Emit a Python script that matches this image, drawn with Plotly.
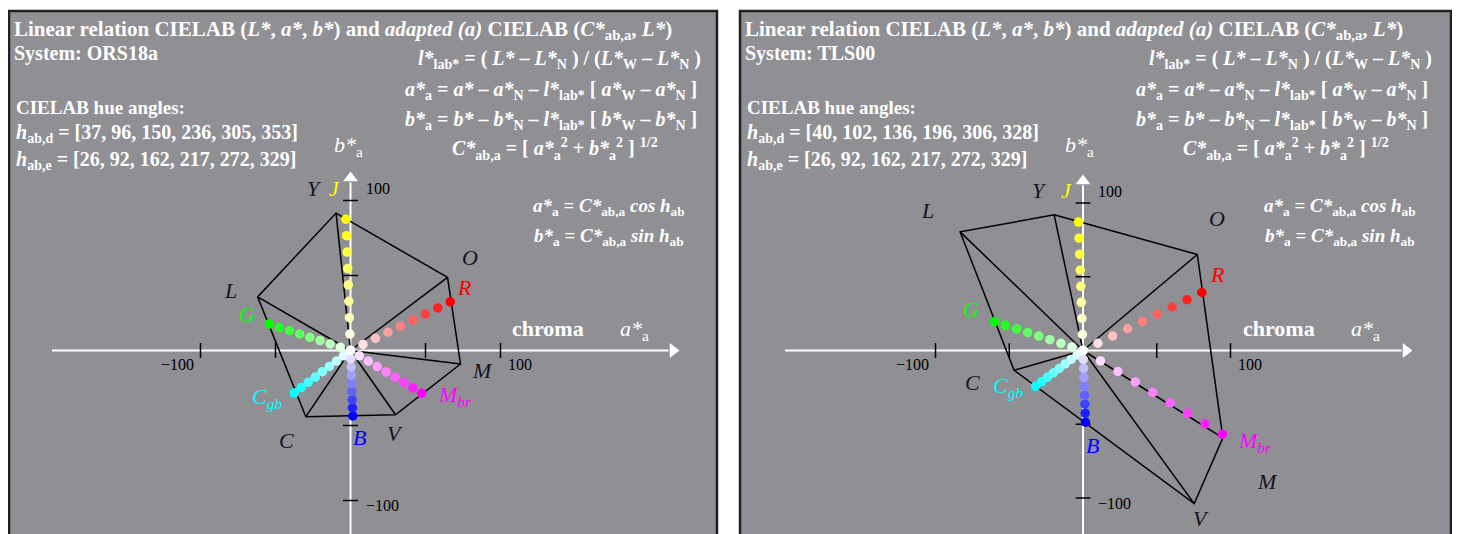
import math
import plotly.graph_objects as go

# The page adds an 8 px body margin; the figure is sized so that page == 1460x534.
PAGE_MARGIN = 8
W, H = 1460 - 2 * PAGE_MARGIN, 534 - PAGE_MARGIN

# ---------------- data ----------------
device_names = ["O", "Y", "L", "C", "V", "M"]
elem_names = ["R", "J", "G", "C<sub>gb</sub>", "B", "M<sub>br</sub>"]
elem_colors = [(255, 0, 0), (255, 255, 0), (0, 255, 0), (0, 255, 255), (0, 0, 255), (255, 0, 255)]

# left: ORS18a
hue_d_left = [37, 96, 150, 236, 305, 353]
chroma_d_left = [81.0, 92.1, 71.5, 53.2, 52.3, 73.9]
hue_e_left = [26, 92, 162, 217, 272, 329]
chroma_e_left = [74.0, 87.5, 57.0, 47.0, 43.7, 55.4]

# right: TLS00
hue_d_right = [40, 102, 136, 196, 306, 328]
chroma_d_right = [101.2, 94.0, 115.8, 48.6, 128.3, 111.8]
hue_e_right = [26, 92, 162, 217, 272, 329]
chroma_e_right = [89.7, 87.1, 63.1, 40.3, 48.6, 110.3]

chroma_steps = [0.0, 0.125, 0.25, 0.375, 0.5, 0.625, 0.75, 0.875, 1.0]
tick_values = [-100, -50, 50, 100]
tick_labels = {-100: "\u2212100", 100: "100"}

systems = ["ORS18a", "TLS00"]

# ---------------- helpers ----------------
def polar(c, h):
    return c * math.cos(math.radians(h)), c * math.sin(math.radians(h))


def px(X):
    return (X - PAGE_MARGIN) / W


def py(Y):
    return 1 - (Y - PAGE_MARGIN) / H


GRAY = "rgb(143,143,148)"
FONT = "Liberation Serif"
LABEL_DARK = "#14141e"

fig = go.Figure()

panels = [
    dict(xa="x", ya="y", hue_d=hue_d_left, chr_d=chroma_d_left, hue_e=hue_e_left, chr_e=chroma_e_left,
         sys=systems[0], off=0, left=8, right=718, ox=350.5, s=1.5,
         xmin=-199, xmax=212, xtip=215,
         labels={"O": (79.7, 62.3), "Y": (-24.3, 107.7), "L": (-80.3, 40.3), "C": (-43, -60.3),
                 "V": (29.7, -55), "M": (87.7, -13),
                 "R": (75.7, 42.3), "J": (-11, 108.3), "G": (-69, 23.7), "C<sub>gb</sub>": (-55.7, -31.7),
                 "B": (6.3, -58.3), "M<sub>br</sub>": (69.7, -30.3)}),
    dict(xa="x2", ya="y2", hue_d=hue_d_right, chr_d=chroma_d_right, hue_e=hue_e_right, chr_e=chroma_e_right,
         sys=systems[1], off=731, left=739, right=1452, ox=1083, s=1.475,
         xmin=-202, xmax=216, xtip=219,
         labels={"O": (90.8, 89.8), "Y": (-29.8, 108.8), "L": (-105.1, 94.6), "C": (-74.6, -21.4),
                 "V": (80, -114.1), "M": (125.4, -88.5),
                 "R": (91.5, 51.2), "J": (-11.5, 108.8), "G": (-75.9, 27.5), "C<sub>gb</sub>": (-50.8, -24.7),
                 "B": (6.1, -64.7), "M<sub>br</sub>": (116.6, -62)}),
]
OY = 350.5
TOP, BOTTOM = 10, 534

annotations = []
shapes = []


def ann_px(text, x, y, size, color="white", xanchor="left", bold=True):
    t = "<b>" + text + "</b>" if bold else text
    annotations.append(dict(text=t, x=px(x), y=py(y), xref="paper", yref="paper",
                            xanchor=xanchor, yanchor="middle", showarrow=False,
                            font=dict(family=FONT, size=size, color=color)))


lab_colors = {"R": "#ff0000", "J": "#ffff00", "G": "#00ff00", "C<sub>gb</sub>": "#00ffff",
              "B": "#0000ff", "M<sub>br</sub>": "#ff00ff"}

for p in panels:
    xa, ya = p["xa"], p["ya"]
    s = p["s"]
    p["xdom"] = [px(p["left"]), px(p["right"])]
    p["xr"] = [(p["left"] - p["ox"]) / s, (p["right"] - p["ox"]) / s]
    p["yr"] = [(OY - BOTTOM) / s, (OY - TOP) / s]

    # axes lines (white) with arrow heads
    fig.add_trace(go.Scatter(x=[p["xmin"], p["xmax"]], y=[0, 0], mode="lines",
                             line=dict(color="white", width=2), xaxis=xa, yaxis=ya, hoverinfo="skip"))
    fig.add_trace(go.Scatter(x=[p["xtip"]], y=[0], mode="markers",
                             marker=dict(symbol="triangle-right", size=13, color="white"),
                             xaxis=xa, yaxis=ya, hoverinfo="skip"))
    fig.add_trace(go.Scatter(x=[0, 0], y=[p["yr"][0] - 5, 112], mode="lines",
                             line=dict(color="white", width=2), xaxis=xa, yaxis=ya, hoverinfo="skip"))
    fig.add_trace(go.Scatter(x=[0], y=[115], mode="markers",
                             marker=dict(symbol="triangle-up", size=13, color="white"),
                             xaxis=xa, yaxis=ya, hoverinfo="skip"))
    # ticks
    tx, ty = [], []
    for v in tick_values:
        tx += [v, v, None]
        ty += [-5, 5, None]
        tx += [-5, 5, None]
        ty += [v, v, None]
    fig.add_trace(go.Scatter(x=tx, y=ty, mode="lines", line=dict(color="black", width=1.5),
                             xaxis=xa, yaxis=ya, hoverinfo="skip"))
    # polygon of device colours + spokes
    verts = [polar(c, h) for c, h in zip(p["chr_d"], p["hue_d"])]
    lx_ = [v[0] for v in verts] + [verts[0][0], None]
    ly_ = [v[1] for v in verts] + [verts[0][1], None]
    for v in verts:
        lx_ += [0, v[0], None]
        ly_ += [0, v[1], None]
    fig.add_trace(go.Scatter(x=lx_, y=ly_, mode="lines", line=dict(color="black", width=1.5),
                             xaxis=xa, yaxis=ya, hoverinfo="skip"))
    # elementary hue dot series
    for name, col, c, h in zip(elem_names, elem_colors, p["chr_e"], p["hue_e"]):
        xs, ys, cs = [], [], []
        for f in reversed(chroma_steps):
            a, b = polar(c * f, h)
            xs.append(a)
            ys.append(b)
            r = round(255 * (1 - f) + col[0] * f)
            g = round(255 * (1 - f) + col[1] * f)
            bb = round(255 * (1 - f) + col[2] * f)
            cs.append(f"rgb({r},{g},{bb})")
        fig.add_trace(go.Scatter(x=xs, y=ys, mode="markers",
                                 marker=dict(size=9.5, color=cs, line=dict(width=0)),
                                 xaxis=xa, yaxis=ya, name=name, hoverinfo="skip"))

    # vertex / hue labels
    for key, (lx, ly) in p["labels"].items():
        colr = lab_colors.get(key, LABEL_DARK)
        annotations.append(dict(text="<i>" + key + "</i>", x=lx, y=ly, xref=xa, yref=ya,
                                showarrow=False, xanchor="center", yanchor="middle",
                                font=dict(family=FONT, size=22, color=colr)))
    # tick labels
    tf = dict(family=FONT, size=16, color="black")
    annotations.append(dict(text=tick_labels[-100], x=-100, y=0, xref=xa, yref=ya, showarrow=False,
                            xanchor="right", yanchor="top", xshift=-5, yshift=-3, font=tf))
    annotations.append(dict(text=tick_labels[100], x=100, y=0, xref=xa, yref=ya, showarrow=False,
                            xanchor="left", yanchor="top", xshift=5, yshift=-3, font=tf))
    annotations.append(dict(text=tick_labels[100], x=0, y=100, xref=xa, yref=ya, showarrow=False,
                            xanchor="left", yanchor="middle", xshift=13, yshift=12, font=tf))
    annotations.append(dict(text=tick_labels[-100], x=0, y=-100, xref=xa, yref=ya, showarrow=False,
                            xanchor="left", yanchor="middle", xshift=13, yshift=-5, font=tf))

    # panel texts
    o = p["off"]
    ann_px("Linear relation CIELAB (<i>L*</i>, <i>a*</i>, <i>b*</i>) and <i>adapted (a)</i> CIELAB "
           "(<i>C*</i><sub>ab,a</sub>, <i>L*</i>)", 12 + o, 30, 21)
    ann_px("System: " + p["sys"], 12 + o, 53, 20)
    ann_px("CIELAB hue angles:", 14 + o, 108, 19)
    hd = ", ".join(str(v) for v in p["hue_d"])
    he = ", ".join(str(v) for v in p["hue_e"])
    ann_px("<i>h</i><sub>ab,d</sub> = [" + hd + "]", 14 + o, 134, 20)
    ann_px("<i>h</i><sub>ab,e</sub> = [" + he + "]", 14 + o, 160, 20)
    ann_px("<i>l*</i><sub>lab*</sub> = ( <i>L*</i> \u2013 <i>L*</i><sub>N</sub> ) / (<i>L*</i><sub>W</sub> \u2013 <i>L*</i><sub>N</sub> )",
           559 + o, 60, 20, xanchor="center")
    ann_px("<i>a*</i><sub>a</sub> = <i>a*</i> \u2013 <i>a*</i><sub>N</sub> \u2013 <i>l*</i><sub>lab*</sub> [ <i>a*</i><sub>W</sub> \u2013 <i>a*</i><sub>N</sub> ]",
           551 + o, 90, 20, xanchor="center")
    ann_px("<i>b*</i><sub>a</sub> = <i>b*</i> \u2013 <i>b*</i><sub>N</sub> \u2013 <i>l*</i><sub>lab*</sub> [ <i>b*</i><sub>W</sub> \u2013 <i>b*</i><sub>N</sub> ]",
           551 + o, 120, 20, xanchor="center")
    ann_px("<i>C*</i><sub>ab,a</sub> = [ <i>a*</i><sub>a</sub><sup>2</sup> + <i>b*</i><sub>a</sub><sup>2</sup> ] <sup>1/2</sup>",
           555 + o, 149, 20, xanchor="center")
    ann_px("<i>b*</i><sub>a</sub>", 348 + o, 146, 22, bold=False, xanchor="center")
    ann_px("<i>a*</i><sub>a</sub> = <i>C*</i><sub>ab,a</sub> <i>cos h</i><sub>ab</sub>", 609 + o, 207, 19, xanchor="center")
    ann_px("<i>b*</i><sub>a</sub> = <i>C*</i><sub>ab,a</sub> <i>sin h</i><sub>ab</sub>", 609 + o, 237, 19, xanchor="center")
    ann_px("chroma", 548 + o, 328, 22, xanchor="center")
    ann_px("<i>a*</i><sub>a</sub>", 634 + o, 330, 22, bold=False, xanchor="center")

    # panel frame
    shapes.append(dict(type="rect", xref="paper", yref="paper",
                       x0=px(p["left"] + 1), x1=px(p["right"] - 1),
                       y0=-0.05, y1=py(TOP + 1), line=dict(color="#202020", width=2.5), layer="above"))

axis_common = dict(visible=False, showgrid=False, zeroline=False, fixedrange=True)
fig.update_layout(
    width=W, height=H, margin=dict(l=0, r=0, t=0, b=0),
    paper_bgcolor="white", plot_bgcolor=GRAY, showlegend=False,
    xaxis=dict(domain=panels[0]["xdom"], range=panels[0]["xr"], anchor="y", **axis_common),
    yaxis=dict(domain=[0, py(TOP)], range=panels[0]["yr"], anchor="x", **axis_common),
    xaxis2=dict(domain=panels[1]["xdom"], range=panels[1]["xr"], anchor="y2", **axis_common),
    yaxis2=dict(domain=[0, py(TOP)], range=panels[1]["yr"], anchor="x2", **axis_common),
    annotations=annotations, shapes=shapes,
)

fig.write_html("out.html")
